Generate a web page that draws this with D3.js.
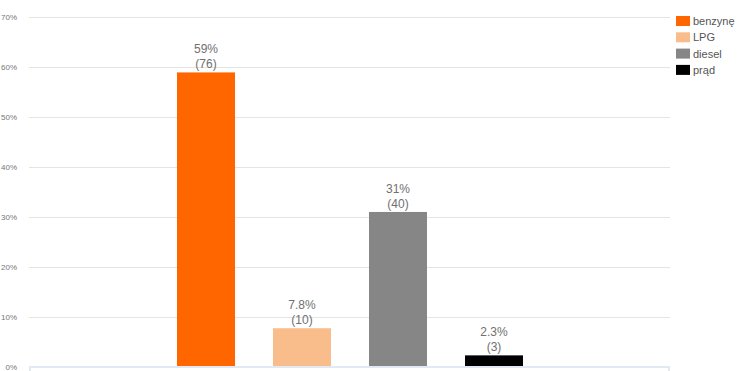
<!DOCTYPE html>
<html>
<head>
<meta charset="utf-8">
<script src="https://cdn.jsdelivr.net/npm/d3@7"></script>
<style>
  body { margin: 0; background: #fff; }
  svg { display: block; font-family: "Liberation Sans", Arial, sans-serif; }
</style>
</head>
<body>
<div id="container"></div>
<script>
/* CONSTANTS AND GLOBALS */
const width = 750,
  height = 371,
  margin = { top: 17, bottom: 4, left: 29, right: 80 };

// data
const categories = ["benzynę", "LPG", "diesel", "prąd"];
const counts = [76, 10, 40, 3];
const colors = ["#ff6600", "#f9bd8b", "#868686", "#000000"];
const yTicks = [0, 0.1, 0.2, 0.3, 0.4, 0.5, 0.6, 0.7];

const total = d3.sum(counts);
const data = categories.map((c, i) => ({ name: c, count: counts[i], share: counts[i] / total, color: colors[i] }));

const svg = d3.select("#container")
  .append("svg")
  .attr("width", width)
  .attr("height", height);

// + SCALES
const yScale = d3.scaleLinear()
  .domain([0, 0.7])
  .range([height - margin.bottom, margin.top]);

const xScale = d3.scaleBand()
  .domain(categories)
  .range([158, 542])
  .paddingInner(38 / 96)
  .paddingOuter(19 / 96);

// + GRIDLINES
svg.append("g")
  .selectAll("line")
  .data(yTicks.slice(1))
  .join("line")
  .attr("x1", margin.left)
  .attr("x2", width - margin.right)
  .attr("y1", d => yScale(d) + 0.5)
  .attr("y2", d => yScale(d) + 0.5)
  .attr("stroke", "#e4e4e4");

// + Y AXIS LABELS
svg.append("g")
  .selectAll("text")
  .data(yTicks)
  .join("text")
  .attr("x", 17)
  .attr("y", d => yScale(d) + 3)
  .attr("text-anchor", "end")
  .attr("font-size", 8)
  .attr("fill", "#777")
  .text(d => d3.format(".0%")(d));

// + BARS
svg.append("g")
  .selectAll("rect")
  .data(data)
  .join("rect")
  .attr("x", d => xScale(d.name))
  .attr("width", xScale.bandwidth())
  .attr("y", d => yScale(d.share))
  .attr("height", d => yScale(0) - yScale(d.share))
  .attr("fill", d => d.color);

// + BASELINE
const base = svg.append("g").attr("stroke", "#e3e9f3").attr("stroke-width", 2);
base.append("line")
  .attr("x1", margin.left).attr("x2", width - margin.right)
  .attr("y1", yScale(0)).attr("y2", yScale(0));
base.append("line")
  .attr("x1", margin.left + 1).attr("x2", margin.left + 1)
  .attr("y1", yScale(0)).attr("y2", height);
base.append("line")
  .attr("x1", width - margin.right - 1).attr("x2", width - margin.right - 1)
  .attr("y1", yScale(0)).attr("y2", height);

// + VALUE LABELS
const fmt = d3.format(".2~p");
const labels = svg.append("g")
  .selectAll("g")
  .data(data)
  .join("g")
  .attr("transform", d => `translate(${xScale(d.name) + xScale.bandwidth() / 2},${yScale(d.share)})`)
  .attr("fill", "#707070")
  .attr("font-size", 12)
  .attr("text-anchor", "middle");

labels.append("text").attr("y", -19).text(d => fmt(d.share));
labels.append("text").attr("y", -4).text(d => `(${d.count})`);

// + LEGEND
const legend = svg.append("g")
  .attr("transform", "translate(676,16)")
  .selectAll("g")
  .data(data)
  .join("g")
  .attr("transform", (d, i) => `translate(0,${i * 16.3})`);

legend.append("rect")
  .attr("width", 14)
  .attr("height", 10)
  .attr("fill", d => d.color);

legend.append("text")
  .attr("x", 17)
  .attr("y", 9)
  .attr("font-size", 11)
  .attr("fill", "#555")
  .text(d => d.name);
</script>
</body>
</html>
